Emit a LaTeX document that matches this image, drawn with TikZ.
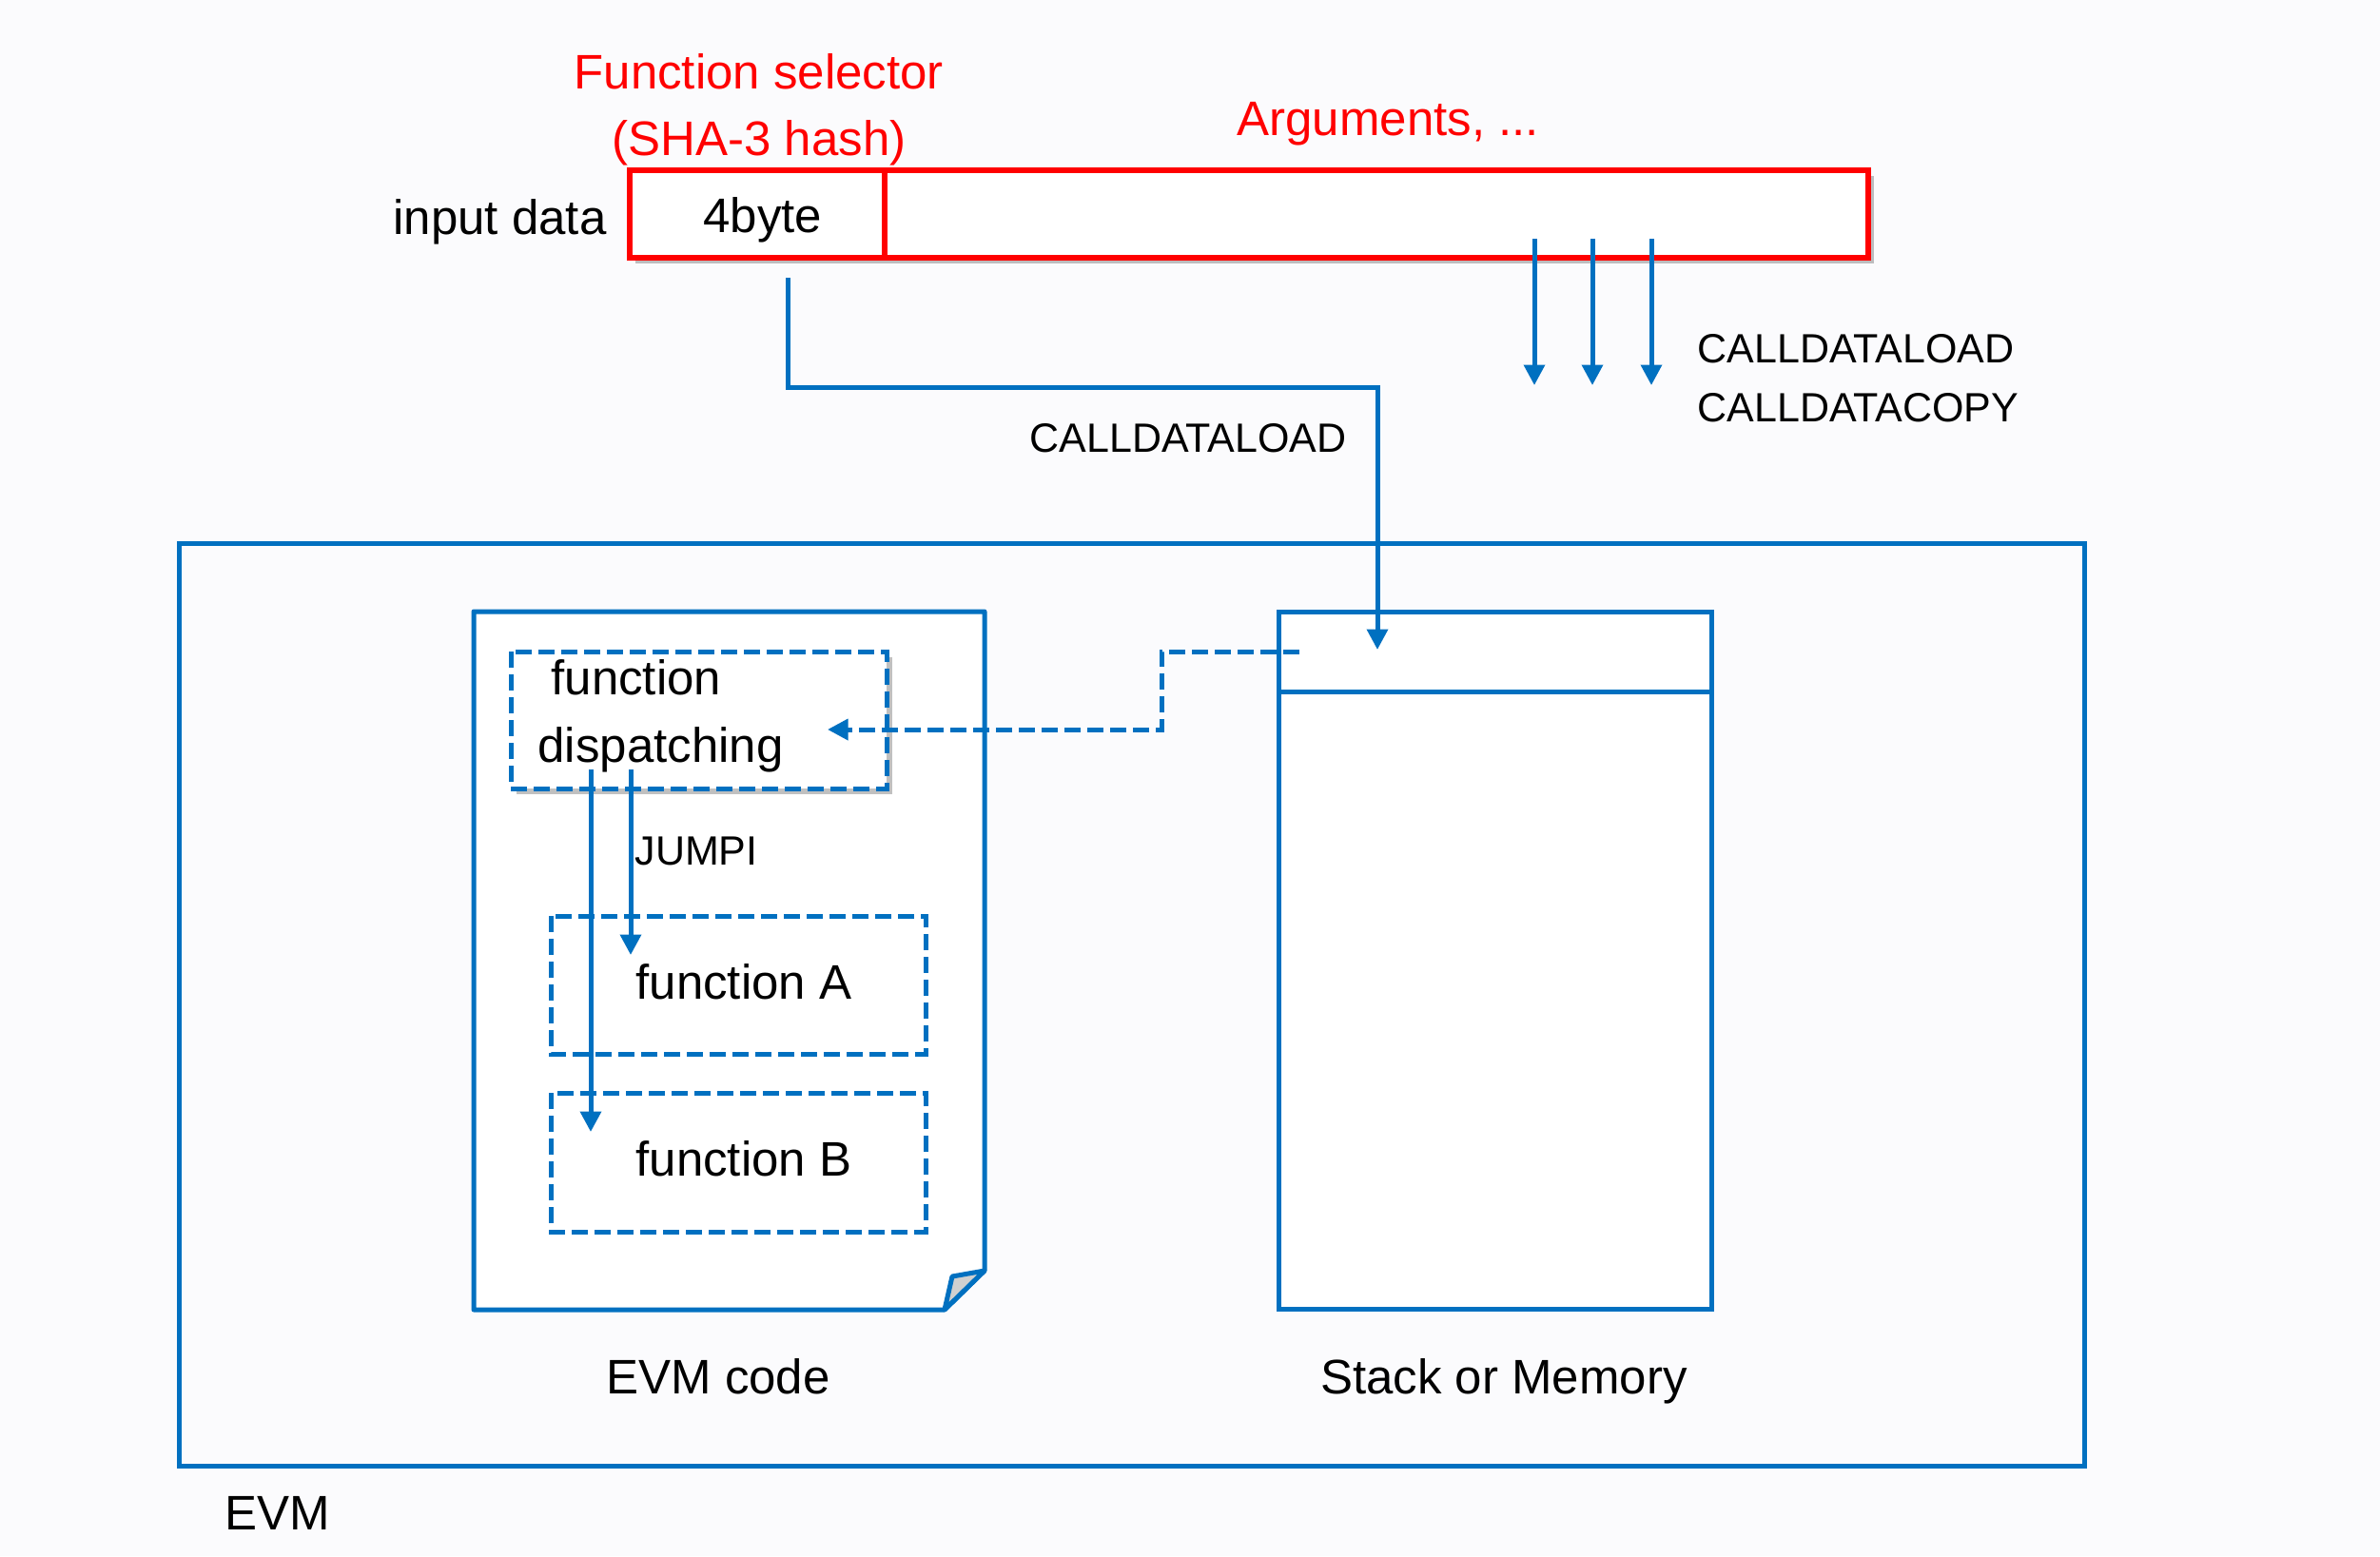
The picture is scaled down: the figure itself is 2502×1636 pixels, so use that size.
\documentclass[tikz,border=0pt]{standalone}
\usepackage{fontspec}
\setmainfont{Liberation Sans}
\usetikzlibrary{arrows.meta,shadows}
\definecolor{evmblue}{RGB}{0,112,192}
\definecolor{bgc}{RGB}{251,251,253}
\definecolor{foldgray}{RGB}{208,208,208}
\begin{document}
\begin{tikzpicture}[x=0.4pt,y=-0.4pt,
 big/.style={font=\fontsize{20.4pt}{24pt}\selectfont, inner sep=0pt, anchor=base west},
 small/.style={font=\fontsize{17.2pt}{20pt}\selectfont, inner sep=0pt, anchor=base west},
 redtxt/.style={text=red},
 blueline/.style={draw=evmblue, line width=2pt},
 dashbox/.style={draw=evmblue, line width=2pt, dash pattern=on 6.8pt off 2.8pt, fill=white},
 arr/.style={draw=evmblue, line width=2pt, -{Triangle[length=8.6pt,width=8.6pt]}},
 softshadow/.style={drop shadow={shadow xshift=2.5pt, shadow yshift=-2.5pt, opacity=0.35, fill=black!70}}
]
\path[fill=bgc] (0,0) rectangle (2502,1636);
\useasboundingbox (0,0) rectangle (2502,1636);

% input data bar
\path[draw=red, line width=2.2pt, fill=white, softshadow] (662,179) rectangle (1964,271);
\draw[red, line width=2.2pt] (930,179) -- (930,271);

% EVM frame
\draw[blueline] (188,571) rectangle (2191,1541);

% EVM code document
\draw[blueline, fill=white, line join=round] (498,643) -- (1035,643) -- (1035,1336) -- (993,1377) -- (498,1377) -- cycle;
\draw[blueline, fill=foldgray, line join=round] (993,1377) -- (1001,1342) -- (1035,1336) -- cycle;

% Stack or Memory
\draw[blueline, fill=white] (1344,643) rectangle (1799,1376);
\draw[blueline] (1344,727) -- (1799,727);

% dashed boxes
\path[dashbox, softshadow] (537,685) rectangle (932,829);
\path[dashbox] (579,963) rectangle (973,1108);
\path[dashbox] (579,1149) rectangle (973,1295);

% texts
\node[big, redtxt] (fsel) at (603,93) {Function selector};
\node[big, redtxt, anchor=base] (sha) at (798,163) {(SHA-3 hash)};
\node[big, redtxt] (args) at (1300,142) {Arguments, ...};
\node[big] (inp) at (413,246) {input data};
\node[big] (four) at (739,244) {4byte};
\node[small] (cl1) at (1784,381) {CALLDATALOAD};
\node[small] (cc1) at (1784,443) {CALLDATACOPY};
\node[small] (cl2) at (1082,475) {CALLDATALOAD};
\node[small] (jumpi) at (667,909) {JUMPI};
\node[big] (fn1) at (579,730) {function};
\node[big] (disp) at (565,801) {dispatching};
\node[big] (fa) at (668,1050) {function A};
\node[big] (fb) at (668,1236) {function B};
\node[big, anchor=base] (evmcode) at (755,1465) {EVM code};
\node[big, anchor=base] (stk) at (1581,1465) {Stack or Memory};
\node[big] (evm) at (236,1608) {EVM};

% connectors
\coordinate (sel) at (828,292);
\coordinate (selturn) at (1448,407);
\coordinate (stacktop) at (1448,683);
\draw[arr] (sel) |- (selturn) -- (stacktop);

\foreach \x [count=\i] in {1613,1674,1736} {
  \coordinate (a\i s) at (\x,251);
  \coordinate (a\i e) at (\x,405);
  \draw[arr] (a\i s) -- (a\i e);
}

\coordinate (ds) at (1366,685);
\coordinate (dm) at (1221,767);
\coordinate (de) at (870,767);
\draw[arr, dash pattern=on 6.8pt off 2.8pt] (ds) -| (dm) -- (de);

\coordinate (ja) at (663,809);
\coordinate (jae) at (663,1004);
\coordinate (jb) at (621,809);
\coordinate (jbe) at (621,1190);
\draw[arr] (ja) -- (jae);
\draw[arr] (jb) -- (jbe);
\end{tikzpicture}
\end{document}
